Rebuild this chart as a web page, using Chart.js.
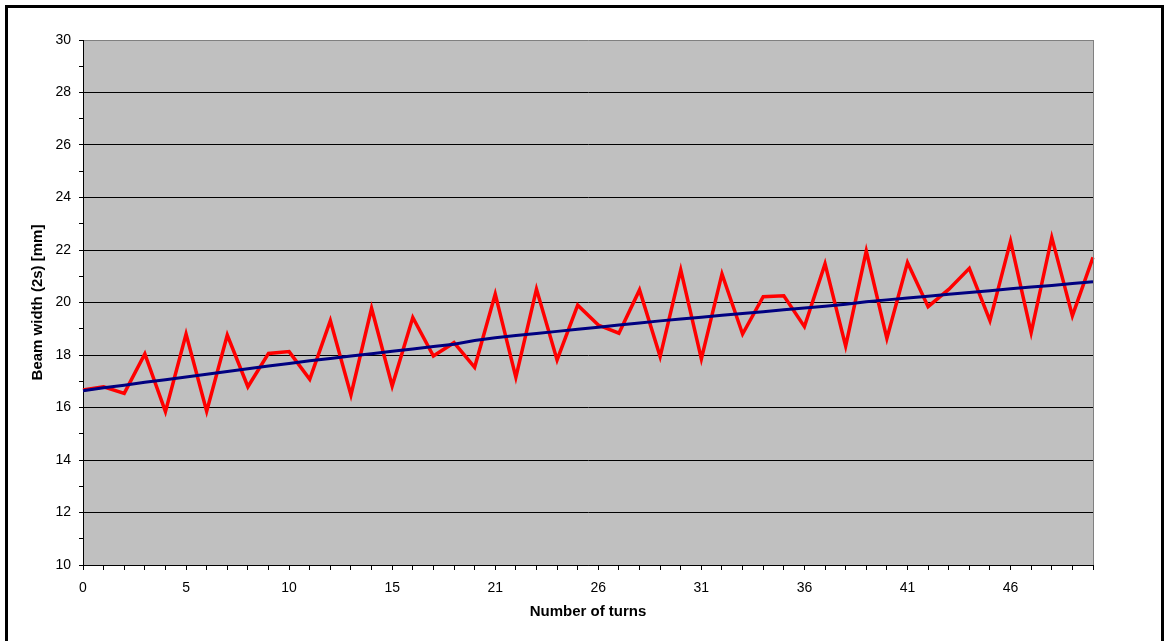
<!DOCTYPE html>
<html>
<head>
<meta charset="utf-8">
<title>Beam width vs number of turns</title>
<script src="https://cdn.jsdelivr.net/npm/chart.js@4.4.1/dist/chart.umd.min.js"></script>
<style>
  html, body { margin: 0; padding: 0; background: #fff; }
  #wrap { position: relative; width: 1166px; height: 641px; overflow: hidden; }
  #frame { position: absolute; left: 5px; top: 5px; width: 1153px; height: 700px;
           border: 3px solid #000; pointer-events: none; }
</style>
</head>
<body>
<div id="wrap">
  <canvas id="chart" width="1166" height="641"></canvas>
  <div id="frame"></div>
</div>
<script>
// turn numbers (category labels, only every 5th is shown)
const turns = [
  '0', '1', '2', '3', '4', '5', '6', '7', '8', '9',
  '10', '11', '12', '13', '14', '15', '16', '17', '18', '19',
  '21', '22', '23', '24', '25', '26', '27', '28', '29', '30',
  '31', '32', '33', '34', '35', '36', '37', '38', '39', '40',
  '41', '42', '43', '44', '45', '46', '47', '48', '49', '50'
];

// measured beam width (2 sigma) in mm
const beamWidth = [
  16.67, 16.79, 16.54, 18.04, 15.84, 18.80, 15.86, 18.76, 16.79, 18.06,
  18.13, 17.07, 19.31, 16.48, 19.78, 16.82, 19.43, 17.96, 18.47, 17.53,
  20.32, 17.15, 20.51, 17.81, 19.90, 19.14, 18.83, 20.48, 17.94, 21.24,
  17.85, 21.09, 18.80, 20.22, 20.26, 19.08, 21.47, 18.34, 21.96, 18.63,
  21.52, 19.84, 20.50, 21.30, 19.31, 22.34, 18.85, 22.48, 19.49, 21.72
];

// smoothed trend line
const trend = [
  16.64, 16.75, 16.85, 16.96, 17.06, 17.16, 17.27, 17.37, 17.48, 17.58,
  17.68, 17.78, 17.87, 17.96, 18.05, 18.14, 18.23, 18.32, 18.41, 18.55,
  18.66, 18.74, 18.82, 18.90, 18.98, 19.06, 19.14, 19.22, 19.30, 19.37,
  19.44, 19.51, 19.58, 19.65, 19.72, 19.79, 19.86, 19.93, 20.03, 20.10,
  20.17, 20.24, 20.31, 20.38, 20.45, 20.52, 20.59, 20.65, 20.72, 20.79
];

const font = 'Liberation Sans, Arial, sans-serif';

// grey plot area with a grey right edge
const plotArea = {
  id: 'plotArea',
  beforeDraw(chart) {
    const { ctx, chartArea: a } = chart;
    ctx.save();
    ctx.fillStyle = '#c0c0c0';
    ctx.fillRect(a.left, a.top, a.right - a.left, a.bottom - a.top);
    ctx.restore();
  },
  afterDatasetsDraw(chart) {
    const { ctx, chartArea: a } = chart;
    ctx.save();
    ctx.strokeStyle = '#808080';
    ctx.lineWidth = 1;
    ctx.beginPath();
    ctx.moveTo(Math.round(a.right) + 0.5, a.top);
    ctx.lineTo(Math.round(a.right) + 0.5, a.bottom);
    ctx.stroke();
    ctx.restore();
  }
};

new Chart(document.getElementById('chart'), {
  type: 'line',
  data: {
    labels: turns,
    datasets: [
      {
        label: 'trend',
        data: trend,
        borderColor: '#000080',
        borderWidth: 3,
        pointRadius: 0,
        tension: 0,
        order: 0
      },
      {
        label: 'beam width',
        data: beamWidth,
        borderColor: '#ff0000',
        borderWidth: 3.5,
        pointRadius: 0,
        tension: 0,
        order: 1
      }
    ]
  },
  options: {
    responsive: false,
    animation: false,
    layout: { padding: { left: 0, right: 73, top: 40, bottom: 0 } },
    plugins: { legend: { display: false }, tooltip: { enabled: false } },
    scales: {
      x: {
        offset: false,
        afterFit: s => { s.height = 76; },
        grid: { drawOnChartArea: false, color: '#000', tickLength: 5 },
        border: { color: '#000', width: 1 },
        ticks: {
          autoSkip: false, maxRotation: 0, padding: 10,
          color: '#000', font: { family: font, size: 14 },
          callback: (v, i) => i % 5 === 0 ? turns[i] : ''
        },
        title: {
          display: true, text: 'Number of turns', color: '#000',
          font: { family: font, size: 15, weight: 'bold' },
          padding: { top: 0, bottom: 20 }
        }
      },
      y: {
        min: 10, max: 30,
        afterFit: s => { s.width = 83; },
        grid: {
          color: c => c.tick.value === 30 ? '#808080' : (c.tick.value % 2 === 0 ? '#000' : 'rgba(0,0,0,0)'),
          tickColor: '#000',
          tickLength: 4
        },
        border: { color: '#000', width: 1 },
        ticks: {
          stepSize: 1, padding: 8, color: '#000',
          font: { family: font, size: 14 },
          callback: v => v % 2 === 0 ? v : ''
        },
        title: {
          display: true, text: 'Beam width (2s) [mm]', color: '#000',
          font: { family: font, size: 15, weight: 'bold' },
          padding: { top: 29, bottom: 0 }
        }
      }
    }
  },
  plugins: [plotArea]
});
</script>
</body>
</html>
